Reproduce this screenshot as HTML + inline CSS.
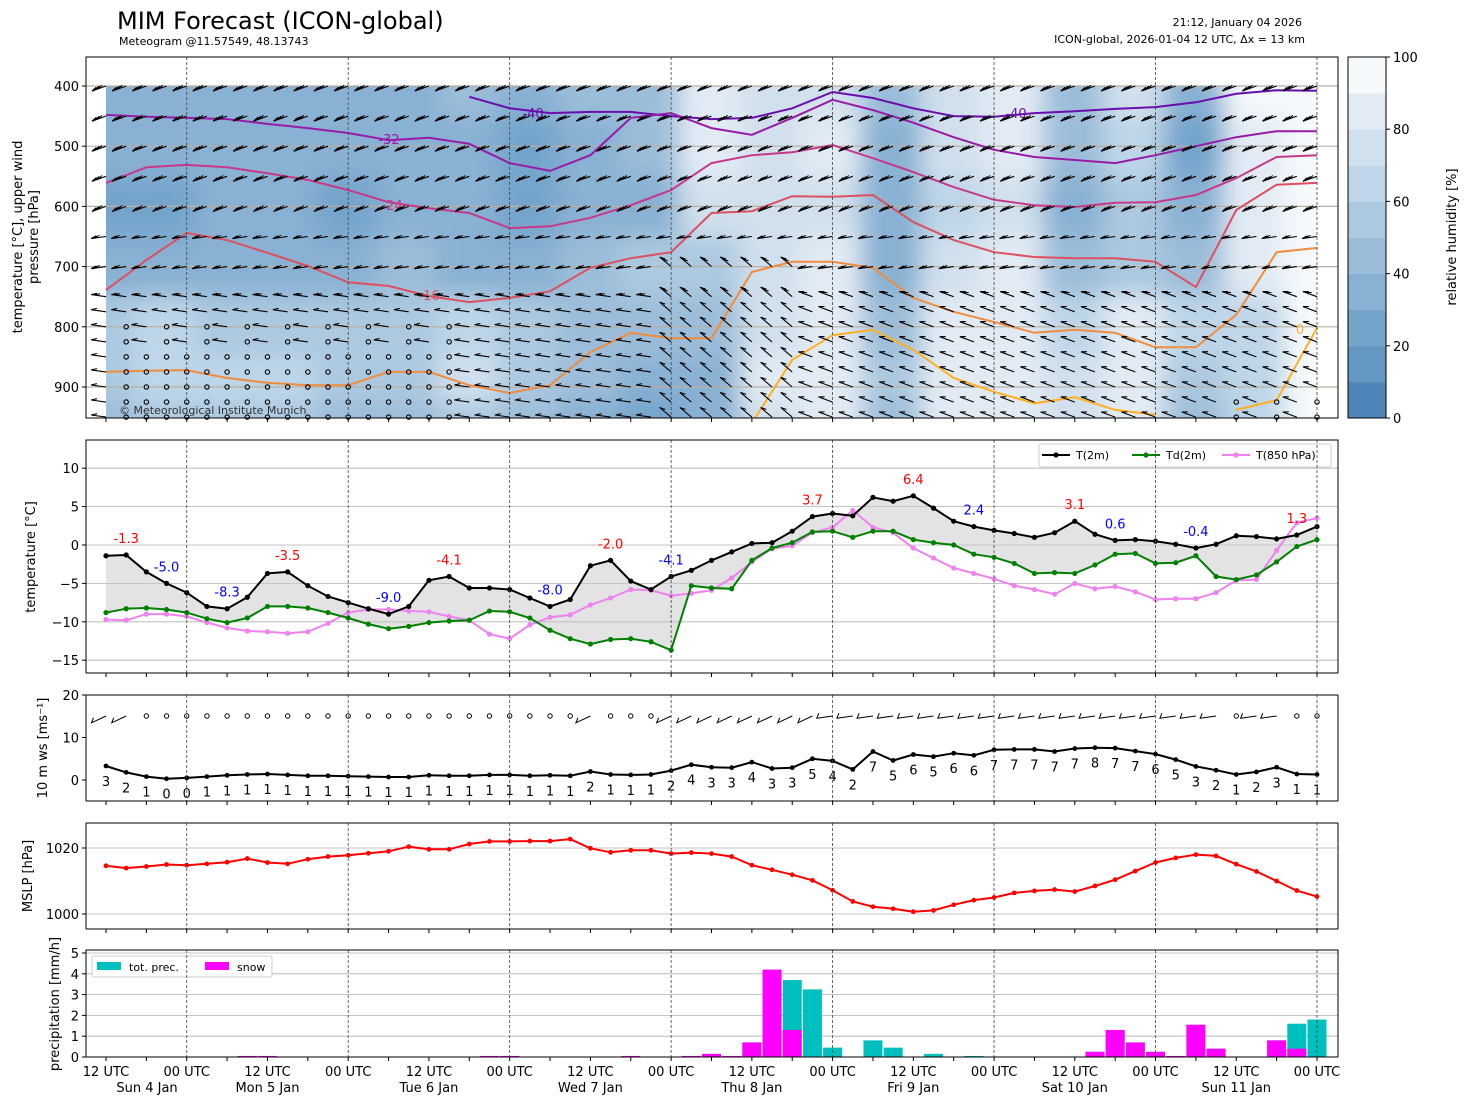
<!DOCTYPE html>
<html><head><meta charset="utf-8"><style>
html,body{margin:0;padding:0;background:#fff;}
svg{display:block;font-family:"DejaVu Sans","Liberation Sans",sans-serif;}
</style></head><body>
<svg id="root" width="1469" height="1105" viewBox="0 0 1469 1105" xmlns="http://www.w3.org/2000/svg">
<defs>
<clipPath id="c1"><rect x="106" y="86" width="1211" height="332"/></clipPath>
<clipPath id="c1b"><rect x="86" y="57" width="1252" height="361"/></clipPath>
<filter id="blur" x="-5%" y="-5%" width="110%" height="110%"><feGaussianBlur stdDeviation="12"/></filter>
</defs>
<text x="117" y="29" font-size="24">MIM Forecast (ICON-global)</text>
<text x="119" y="45" font-size="11">Meteogram @11.57549, 48.13743</text>
<text x="1302" y="26" font-size="11" text-anchor="end">21:12, January 04 2026</text>
<text x="1305" y="43" font-size="11" text-anchor="end">ICON-global, 2026-01-04 12 UTC, Δx = 13 km</text>
<g id="g"></g>
</svg>
<script>
// ---------- data ----------
const t2m=[-1.4,-1.3,-3.5,-5.0,-6.2,-8.0,-8.3,-6.8,-3.7,-3.5,-5.3,-6.7,-7.5,-8.3,-9.0,-8.0,-4.6,-4.1,-5.6,-5.6,-5.8,-6.9,-8.0,-7.1,-2.7,-2.0,-4.7,-5.8,-4.1,-3.3,-2.0,-0.9,0.2,0.3,1.8,3.7,4.1,3.8,6.2,5.7,6.4,4.8,3.1,2.4,1.9,1.5,1.0,1.6,3.1,1.4,0.6,0.7,0.5,0.1,-0.4,0.1,1.2,1.1,0.8,1.3,2.4];
const td2m=[-8.8,-8.3,-8.2,-8.4,-8.8,-9.6,-10.1,-9.5,-8.0,-8.0,-8.2,-8.8,-9.5,-10.3,-10.9,-10.6,-10.1,-9.9,-9.8,-8.6,-8.7,-9.5,-11.1,-12.2,-12.9,-12.3,-12.2,-12.6,-13.7,-5.3,-5.6,-5.7,-2.0,-0.4,0.3,1.7,1.8,1.0,1.8,1.8,0.7,0.3,0.0,-1.2,-1.6,-2.4,-3.7,-3.6,-3.7,-2.6,-1.2,-1.1,-2.4,-2.3,-1.4,-4.1,-4.5,-3.9,-2.2,-0.2,0.7];
const t850=[-9.7,-9.8,-9.0,-9.0,-9.3,-10.1,-10.8,-11.2,-11.3,-11.5,-11.3,-10.2,-8.8,-8.4,-8.4,-8.6,-8.7,-9.3,-9.8,-11.6,-12.2,-10.4,-9.4,-9.1,-7.8,-6.9,-5.8,-5.9,-6.6,-6.3,-5.9,-4.3,-2.2,-0.5,-0.1,1.6,2.3,4.5,2.3,1.6,-0.4,-1.7,-3.0,-3.7,-4.4,-5.3,-5.8,-6.4,-5.0,-5.7,-5.4,-6.1,-7.1,-7.0,-7.0,-6.2,-4.6,-4.5,-0.7,2.9,3.5];
const maxIdx=[1,9,17,25,35,40,48,59];
const maxVal=[-1.3,-3.5,-4.1,-2.0,3.7,6.4,3.1,1.3];
const minIdx=[3,6,14,22,28,43,50,54];
const minVal=[-5.0,-8.3,-9.0,-8.0,-4.1,2.4,0.6,-0.4];
const wspd=[3.3,1.8,0.8,0.3,0.5,0.8,1.1,1.3,1.4,1.2,1.0,1.0,0.9,0.8,0.7,0.7,1.1,1.0,1.0,1.2,1.2,1.0,1.1,1.0,2.0,1.3,1.2,1.3,2.2,3.6,3.0,2.9,4.2,2.7,2.9,5.0,4.5,2.5,6.7,4.6,6.0,5.5,6.3,5.8,7.1,7.2,7.2,6.7,7.4,7.6,7.5,6.8,6.1,4.8,3.2,2.3,1.3,1.9,3.0,1.4,1.3];
const wlab=[3,2,1,0,0,1,1,1,1,1,1,1,1,1,1,1,1,1,1,1,1,1,1,1,2,1,1,1,2,4,3,3,4,3,3,5,4,2,7,5,6,5,6,6,7,7,7,7,7,8,7,7,6,5,3,2,1,2,3,1,1];
const mslp=[1014.6,1013.9,1014.4,1015.0,1014.8,1015.2,1015.7,1016.8,1015.6,1015.2,1016.6,1017.4,1017.8,1018.4,1019.0,1020.4,1019.6,1019.6,1021.2,1022.0,1022.0,1022.1,1022.1,1022.7,1019.9,1018.7,1019.3,1019.3,1018.3,1018.6,1018.3,1017.4,1014.8,1013.4,1011.9,1010.2,1007.2,1003.8,1002.2,1001.6,1000.7,1001.1,1002.8,1004.2,1005.0,1006.4,1007.0,1007.4,1006.8,1008.5,1010.4,1013.0,1015.6,1017.0,1018.0,1017.6,1015.1,1012.9,1010.0,1007.1,1005.3];
const precTot=[0,0,0,0,0,0,0,0.05,0.05,0,0,0,0,0,0,0,0,0,0,0.05,0.05,0,0,0,0,0,0.05,0,0,0.05,0.15,0.05,0.7,4.2,3.7,3.25,0.45,0,0.8,0.45,0,0.15,0,0.05,0,0,0,0,0,0.25,1.3,0.7,0.25,0.05,1.55,0.4,0,0,0.8,1.6,1.8];
const precSnow=[0,0,0,0,0,0,0,0.05,0.05,0,0,0,0,0,0,0,0,0,0,0.05,0.05,0,0,0,0,0,0.05,0,0,0.05,0.15,0.05,0.7,4.2,1.3,0,0,0,0,0,0,0,0,0,0,0,0,0,0,0.25,1.3,0.7,0.25,0.05,1.55,0.4,0,0,0.8,0.4,0];
const rhLevels=[400,500,600,700,800,900,950];
const rh=[
[35,30,30,35,30,30,40,30,40,45,85,75,75,40,75,85,40,70,30,90,95],
[30,30,35,35,30,30,35,25,30,40,80,70,80,35,70,80,40,60,25,85,95],
[25,25,30,30,25,30,30,25,30,35,75,70,75,35,60,75,35,55,30,85,95],
[30,30,35,35,35,40,35,35,40,50,55,75,80,30,75,80,40,55,40,80,95],
[50,60,55,55,50,55,60,55,45,40,40,75,80,40,80,80,60,80,60,60,90],
[55,60,65,65,50,55,70,50,40,30,35,80,85,50,85,85,75,85,50,60,95],
[45,50,55,55,45,45,55,45,35,25,35,75,80,40,80,80,70,80,40,60,90]];
const isoM40=[null,null,null,null,null,null,null,null,null,418,437,445,443,443,450,455,453,437,410,420,437,450,451,445,442,438,435,427,413,407,408];
const isoM32=[448,451,453,455,463,470,478,490,486,496,528,541,515,453,445,470,481,453,423,440,461,485,506,518,523,528,515,500,485,475,475];
const isoM24=[561,535,531,535,545,556,573,593,603,611,636,633,619,598,573,528,515,510,498,520,543,568,589,598,601,594,593,581,553,518,515];
const isoM16=[739,689,644,656,677,699,726,732,749,759,752,741,702,686,676,611,608,583,584,581,626,656,676,684,686,686,692,734,606,564,561];
const isoM8=[875,873,872,885,893,897,897,875,875,897,910,897,842,810,819,819,709,692,692,702,752,775,792,810,805,810,834,834,780,676,669];
const iso0=[null,null,null,null,null,null,null,null,null,null,null,null,null,null,null,null,980,855,814,805,838,885,908,927,917,938,946,null,938,922,802];
const barbLevels=[400,450,500,550,600,650,700,750,775,800,825,850,875,900,925,950];
const dayLabels=["Sun 4 Jan","Mon 5 Jan","Tue 6 Jan","Wed 7 Jan","Thu 8 Jan","Fri 9 Jan","Sat 10 Jan","Sun 11 Jan"];
const hourLabels=["12 UTC","00 UTC"];

// ---------- scales ----------
const NS='http://www.w3.org/2000/svg';
const G=document.getElementById('g');
function mk(tag,attrs,parent){const e=document.createElementNS(NS,tag);for(const k in attrs)e.setAttribute(k,attrs[k]);(parent||G).appendChild(e);return e;}
const X0=106,PX12=80.733;
function xH(h){return X0+h*PX12/12;}
function xI(i){return xH(3*i);}
function yT(v){return 545-v*7.68;}
function yW(v){return 780-v*4.25;}
function yP(v){return 848+(1020-v)*3.3;}
function yR(v){return 1057-v*20.8;}
function yPr(p){return 86+(p-400)*0.602;}
const panels=[[57,418],[440,673],[695,801],[823,929],[950,1057]];
const PL=86,PR=1338;

// ---------- panel 1 ----------
const hum=mk('g',{'clip-path':'url(#c1)'});


const hb=mk('g',{filter:'url(#blur)'},hum);
function rhColor(v){const c=['#4f86b9','#6498c2','#75a4cb','#88b1d3','#9bbdd9','#acc9e0','#bed6e8','#d1e0ed','#e2ebf4','#f5f9fc'];return c[Math.max(0,Math.min(9,Math.floor(v/10)))];}
for(let r=0;r<rhLevels.length;r++){
  const p=rhLevels[r];
  const pTop=r===0?300:(rhLevels[r-1]+p)/2, pBot=r===rhLevels.length-1?1050:(p+rhLevels[r+1])/2;
  for(let c=0;c<rh[r].length;c++){
    const cx=xH(9*c);
    const cell=mk('rect',{x:cx-32,y:yPr(pTop),width:64,height:yPr(pBot)-yPr(pTop),fill:rhColor(rh[r][c])},hb);
    
    
  }
}
for(let p=400;p<=900;p+=100){
  const l=mk('line',{x1:PL,x2:PR,y1:yPr(p),y2:yPr(p),stroke:'#b8b0a4','stroke-width':1.2});
  
  
}
const isoSets=[[isoM40,'#6a0dad','-40'],[isoM32,'#9a1aa8','-32'],[isoM24,'#c8388a','-24'],[isoM16,'#dc5060','-16'],[isoM8,'#f08c3c','-8'],[iso0,'#ffb020','0']];
const isoG=mk('g',{'clip-path':'url(#c1b)'});


isoSets.forEach(s=>{
  let d='',pen=false;
  s[0].forEach((p,j)=>{if(p===null){pen=false;return;}d+=(pen?'L':'M')+xH(6*j).toFixed(1)+','+yPr(Math.min(p,960)).toFixed(1);pen=true;});
  const path=mk('path',{d:d,fill:'none',stroke:s[1],'stroke-width':2},isoG);
  
  
});
const isoLabs=[['-40',533,118,'#6a0dad'],['-40',1016,118,'#6a0dad'],['-32',389,144,'#9a1aa8'],['-24',392,210,'#c8388a'],['-16',429,300,'#dc5060'],['0',1300,334,'#ffb020']];
isoLabs.forEach(l=>{
  const t=mk('text',{x:l[1],y:l[2],'font-size':13,fill:l[3],'text-anchor':'middle'});
  t.textContent=l[0];
  
  
});
const barbG=mk('g',{stroke:'#000','stroke-width':1.1,fill:'none'});


barbLevels.forEach((p,r)=>{
  const y=yPr(p);
  for(let i=0;i<61;i++){
    const x=xI(i);
    const calm=(p>=800&&i>=1&&i<=17&&(i%2===1||p>=850))||(p>=925&&i>=56&&i<=60&&i%2===0);
    if(calm){const c=mk('circle',{cx:x,cy:y,r:2.2},barbG);continue;}
    let ang;
    if(p<=600) ang=-20; else if(p<=700) ang=-8; else ang=(i>30?20:8);
    if(i>=28&&i<=34&&p>=700) ang=40;
    const a=ang*Math.PI/180, L=15;
    const ex=x-L*Math.cos(a), ey=y-L*Math.sin(a);
    let d='M'+x.toFixed(1)+','+y.toFixed(1)+'L'+ex.toFixed(1)+','+ey.toFixed(1);
    const nf=p<=600?3:(p<=750?2:1);
    for(let k=0;k<nf;k++){
      const bx=ex+k*3*Math.cos(a), by=ey+k*3*Math.sin(a);
      const fa=a+Math.PI/2.6;
      d+='M'+bx.toFixed(1)+','+by.toFixed(1)+'l'+(6*Math.sin(fa)).toFixed(1)+','+(-6*Math.cos(fa)).toFixed(1);
    }
    const b=mk('path',{d:d},barbG);
    
    
  }
});
const cp=mk('text',{x:119,y:414,'font-size':11,fill:'#333'});
cp.textContent='© Meteorological Institute Munich';



// ---------- panel 2 ----------
for(let v=-15;v<=10;v+=5){
  const l=mk('line',{x1:PL,x2:PR,y1:yT(v),y2:yT(v),stroke:'#b0b0b0','stroke-width':0.8});
  
  
}
let fd='M'+t2m.map((v,i)=>xI(i).toFixed(1)+','+yT(v).toFixed(1)).join('L');
for(let i=60;i>=0;i--) fd+='L'+xI(i).toFixed(1)+','+yT(td2m[i]).toFixed(1);
const fill=mk('path',{d:fd+'Z',fill:'#c8c8c8','fill-opacity':0.5});


function series(arr,yf,color,name,r,w){
  const gg=mk('g',{});
  
  
  const pl=mk('polyline',{points:arr.map((v,i)=>xI(i).toFixed(1)+','+yf(v).toFixed(1)).join(' '),fill:'none',stroke:color,'stroke-width':w||2},gg);
  
  
  arr.forEach((v,i)=>{const c=mk('circle',{cx:xI(i),cy:yf(v),r:r||2.6,fill:color},gg);});
}
series(t850,yT,'#ee82ee','t850');
series(td2m,yT,'#008000','td2m');
series(t2m,yT,'#000000','t2m');
maxIdx.forEach((ix,k)=>{const t=mk('text',{x:xI(ix),y:yT(t2m[ix])-12,'font-size':13,fill:'#ff0000','text-anchor':'middle'});t.textContent=maxVal[k].toFixed(1);});
minIdx.forEach((ix,k)=>{const t=mk('text',{x:xI(ix),y:yT(t2m[ix])-12,'font-size':13,fill:'#0000ff','text-anchor':'middle'});t.textContent=minVal[k].toFixed(1);});
const lg=mk('g',{});


mk('rect',{x:1039,y:444,width:292,height:23,fill:'#fff',stroke:'#ccc',rx:2},lg);
[['T(2m)','#000',1042],['Td(2m)','#008000',1132],['T(850 hPa)','#ee82ee',1222]].forEach(e=>{
  mk('line',{x1:e[2],x2:e[2]+28,y1:455,y2:455,stroke:e[1],'stroke-width':2},lg);
  mk('circle',{cx:e[2]+14,cy:455,r:2.6,fill:e[1]},lg);
  const t=mk('text',{x:e[2]+34,y:459,'font-size':11},lg);t.textContent=e[0];
  
  
});

// ---------- panel 3 ----------
series(wspd,yW,'#000','wind-speed',2.4,2);
wspd.forEach((v,i)=>{const t=mk('text',{x:xI(i),y:yW(v)+20,'font-size':13,'text-anchor':'middle'});t.textContent=wlab[i];});
const wb=mk('g',{stroke:'#000','stroke-width':1,fill:'none'});


wspd.forEach((v,i)=>{
  const x=xI(i),y=716;
  if(v<1.5){const c=mk('circle',{cx:x,cy:y,r:2.2},wb);return;}
  const a=(i>=36?-8:-25)*Math.PI/180,L=16;
  const sx=x-L*Math.cos(a),sy=y-L*Math.sin(a);
  const b=mk('path',{d:'M'+x+','+y+'L'+sx.toFixed(1)+','+sy.toFixed(1)+'l2,-5'},wb);
  
  
});

// ---------- panel 4 ----------
[1000,1020].forEach(v=>{const l=mk('line',{x1:PL,x2:PR,y1:yP(v),y2:yP(v),stroke:'#b0b0b0','stroke-width':0.8});});
series(mslp,yP,'#ff0000','mslp',2.4,2);

// ---------- panel 5 ----------
for(let v=1;v<=5;v++){const l=mk('line',{x1:PL,x2:PR,y1:yR(v),y2:yR(v),stroke:'#b0b0b0','stroke-width':0.8});}
precTot.forEach((v,i)=>{if(v<=0)return;const b=mk('rect',{x:xI(i)-9.5,y:yR(v),width:19,height:yR(0)-yR(v),fill:'#00bfbf'});});
precSnow.forEach((v,i)=>{if(v<=0)return;const b=mk('rect',{x:xI(i)-9.5,y:yR(v),width:19,height:yR(0)-yR(v),fill:'#ff00ff'});});
const pl2=mk('g',{});


mk('rect',{x:92,y:956,width:180,height:21,fill:'#fff',stroke:'#ccc',rx:2},pl2);
mk('rect',{x:97,y:962,width:24,height:8,fill:'#00bfbf'},pl2);
let tt=mk('text',{x:129,y:971,'font-size':11},pl2);tt.textContent='tot. prec.';
mk('rect',{x:205,y:962,width:24,height:8,fill:'#ff00ff'},pl2);
tt=mk('text',{x:237,y:971,'font-size':11},pl2);tt.textContent='snow';

// ---------- frames ----------
panels.forEach((pp,k)=>{
  for(let d=0;d<8;d++){const x=xH(12+24*d);const l=mk('line',{x1:x,x2:x,y1:pp[0],y2:pp[1],stroke:'#444','stroke-width':0.8,'stroke-dasharray':'3,2'});}
  const f=mk('rect',{x:PL,y:pp[0],width:PR-PL,height:pp[1]-pp[0],fill:'none',stroke:'#000','stroke-width':1});
  
  
  for(let h=0;h<=180;h+=6){mk('line',{x1:xH(h),x2:xH(h),y1:pp[1],y2:pp[1]+4,stroke:'#000'});}
});
function yTicks(vals,yf,fmt){vals.forEach(v=>{const y=yf(v);mk('line',{x1:PL-4,x2:PL,y1:y,y2:y,stroke:'#000'});const t=mk('text',{x:PL-7,y:y+5,'font-size':13,'text-anchor':'end'});t.textContent=fmt?fmt(v):v;});}
yTicks([400,500,600,700,800,900],yPr);
yTicks([10,5,0,-5,-10,-15],yT,v=>v<0?'−'+(-v):v);
yTicks([0,10,20],yW);
yTicks([1000,1020],yP);
yTicks([0,1,2,3,4,5],yR);
function yTitle(lines,cx,cy){const t=mk('text',{transform:'translate('+cx+','+cy+') rotate(-90)','font-size':13,'text-anchor':'middle'});lines.forEach((s,j)=>{const ts=mk('tspan',{x:0,dy:j===0?0:16},t);ts.textContent=s;});}
yTitle(['temperature [°C], upper wind','pressure [hPa]'],22,237);
yTitle(['temperature [°C]'],35,557);
yTitle(['10 m ws [ms⁻¹]'],47,748);
yTitle(['MSLP [hPa]'],32,876);
yTitle(['precipitation [mm/h]'],59,1004);
for(let h=0;h<=180;h+=12){const t=mk('text',{x:xH(h),y:1076,'font-size':13,'text-anchor':'middle'});t.textContent=hourLabels[(h/12)%2];}
dayLabels.forEach((s,d)=>{const t=mk('text',{x:d===0?147:xH(24*d),y:1092,'font-size':13,'text-anchor':'middle'});t.textContent=s;});

// ---------- colorbar ----------
const cb=mk('g',{});


for(let k=0;k<10;k++){mk('rect',{x:1348,y:418-(k+1)*36.1,width:38,height:36.6,fill:rhColor(k*10+5)},cb);}
mk('rect',{x:1348,y:57,width:38,height:361,fill:'none',stroke:'#000'},cb);
for(let v=0;v<=100;v+=20){const y=418-v*3.61;mk('line',{x1:1386,x2:1390,y1:y,y2:y,stroke:'#000'},cb);const t=mk('text',{x:1393,y:y+5,'font-size':13},cb);t.textContent=v;}
const cbt=mk('text',{transform:'translate(1456,237) rotate(-90)','font-size':13,'text-anchor':'middle'},cb);
cbt.textContent='relative humidity [%]';
</script>
</body></html>
